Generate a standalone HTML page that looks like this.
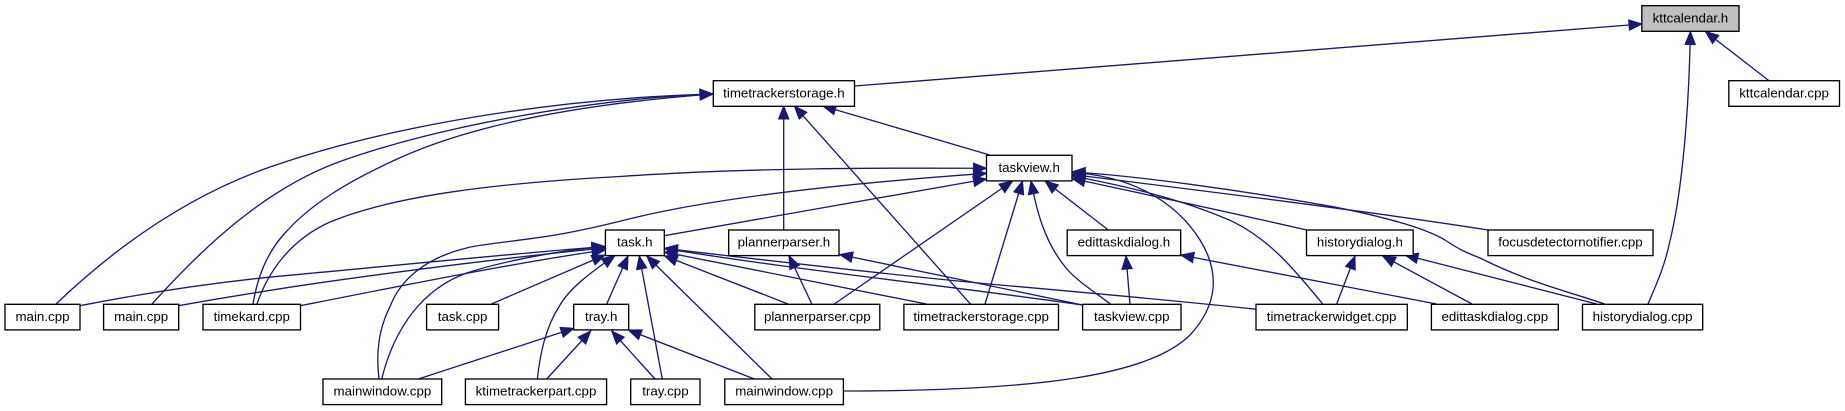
<!DOCTYPE html>
<html>
<head>
<meta charset="utf-8">
<style>
html,body{margin:0;padding:0;background:#fff;width:1845px;height:411px;overflow:hidden}
svg{display:block}
text{font-family:"Liberation Sans",sans-serif;font-size:13.33px;text-anchor:middle;fill:#000}
.e path{fill:none;stroke:#191970;stroke-width:1.33;marker-start:url(#a)}
.n rect{fill:#fff;stroke:#000;stroke-width:1.33}
</style>
</head>
<body>
<svg width="1845" height="411" viewBox="0 0 1845 411" xmlns="http://www.w3.org/2000/svg">
<defs>
<marker id="a" markerUnits="userSpaceOnUse" markerWidth="16" markerHeight="14" refX="14" refY="7" orient="auto-start-reverse">
<path d="M1,1.8 L14,7 L1,12.2 Z" fill="#191970" stroke="#191970" stroke-width="1"/>
</marker>
</defs>
<g class="e">
<path d="M1642 24 L854.5 86"/>
<path d="M1705.4 31.5 L1768.7 80.5"/>
<path d="M1690.4 31.5 C1689 105 1683 190 1669 245 C1664 268 1656 285 1648 304"/>
<path d="M822.8 106 L989.7 155"/>
<path d="M783.7 106 L783.7 230"/>
<path d="M794.4 106 L970.7 304.3"/>
<path d="M713 94 C560 98 390 125 270 167 C190 195 120 243 56 304"/>
<path d="M713 94 C600 98 440 125 336 163 C265 190 205 245 152 304"/>
<path d="M713 94 C580 104 470 125 395 160 C345 183 310 205 285 233 C265 255 257 280 253 304"/>
<path d="M986.5 168.3 C900 168 760 167 620 176.5 C500 183 395 195 330 222 C290 240 268 272 257 304"/>
<path d="M986.5 173.3 C850 183 720 197 633 218 C590 229 560 235 533 238.3 C500 243 475 245 466.7 248 C425 258 400 280 390 306.7 C378 330 376 355 379 379"/>
<path d="M986.5 179 L664.3 235.7"/>
<path d="M1012.6 181 L834.3 304"/>
<path d="M1022.5 181 L985 304"/>
<path d="M1031 181 C1036 207 1043 240 1066 268 C1078 282 1095 292 1110.3 304"/>
<path d="M1045 181 L1108.3 230"/>
<path d="M1072 172.5 C1130 176 1175 200 1200 240 C1220 272 1218 305 1190 335 C1150 375 1040 391 843.4 391"/>
<path d="M1072 172 C1130 175 1240 190 1333 206.7 C1385 217 1425 228 1445 240 C1460 250 1465 252 1480 258 C1530 283 1570 292 1604.6 304"/>
<path d="M1072 174.5 C1130 182 1350 208 1488 230"/>
<path d="M1072 176 C1120 185 1180 198 1233 221.7 C1270 240 1295 270 1322.7 304"/>
<path d="M1072 178.5 C1130 191 1220 210 1306.7 230"/>
<path d="M1126 256 L1130 304.3"/>
<path d="M1180.7 255 L1436.5 304"/>
<path d="M1355 256 L1336.7 304"/>
<path d="M1382.4 255.7 L1472 304"/>
<path d="M1405 255 L1596.7 304"/>
<path d="M789 255.7 L811.8 304"/>
<path d="M839.5 254.5 L1082.6 305"/>
<path d="M605 246.5 C530 252 380 267 300 274.3 C220 281 150 292 80 305.7"/>
<path d="M605 248 C530 255 400 271 300 285.7 C260 292 220 298 178.7 305.7"/>
<path d="M605 250 C520 262 410 284 300.5 305.7"/>
<path d="M605 255 L490.7 304.3"/>
<path d="M605 246.7 C560 250 500 262 466.7 273 C425 288 395 325 381.7 379"/>
<path d="M615 255.5 C590 273 570 288 560 305 C545 328 540 355 537.3 379"/>
<path d="M628 256 L606.7 304"/>
<path d="M639.3 256 L662.3 379"/>
<path d="M646.7 256 L772 379"/>
<path d="M664.3 255.7 L788 304"/>
<path d="M664.3 252 L926.5 304"/>
<path d="M664.3 248.3 C780 268 950 286 1082.6 305"/>
<path d="M664.3 248.3 C780 262 900 276 1000 285 C1090 293 1170 300 1256.7 309.3"/>
<path d="M574 328.3 L418.3 379"/>
<path d="M590.7 331 L546.7 379"/>
<path d="M611.7 331 L655 379"/>
<path d="M628.3 330 L754.4 379"/>
</g>
<g class="n">
<rect x="1641.8" y="5.7" width="97.2" height="25.6" style="fill:#bfbfbf"/><text x="1690.4" y="22.3">kttcalendar.h</text>
<rect x="1728.8" y="80.7" width="110.7" height="25.6"/><text x="1784.1" y="97.3">kttcalendar.cpp</text>
<rect x="713.3" y="80.7" width="141.2" height="25.6"/><text x="783.9" y="97.3">timetrackerstorage.h</text>
<rect x="986.5" y="155.3" width="85.5" height="25.6"/><text x="1029.2" y="171.9">taskview.h</text>
<rect x="605.4" y="230" width="58.9" height="25.6"/><text x="634.8" y="246.6">task.h</text>
<rect x="728.7" y="230" width="110.3" height="25.6"/><text x="783.9" y="246.6">plannerparser.h</text>
<rect x="1067.2" y="230" width="113.5" height="25.6"/><text x="1123.9" y="246.6">edittaskdialog.h</text>
<rect x="1306.5" y="230" width="106.7" height="25.6"/><text x="1359.9" y="246.6">historydialog.h</text>
<rect x="1488" y="230" width="165" height="25.6"/><text x="1570.5" y="246.6">focusdetectornotifier.cpp</text>
<rect x="5" y="304.3" width="75" height="25.6"/><text x="42.5" y="320.9">main.cpp</text>
<rect x="103.6" y="304.3" width="75.1" height="25.6"/><text x="141.2" y="320.9">main.cpp</text>
<rect x="203" y="304.3" width="97.5" height="25.6"/><text x="251.8" y="320.9">timekard.cpp</text>
<rect x="426.6" y="304.3" width="72" height="25.6"/><text x="462.6" y="320.9">task.cpp</text>
<rect x="573.7" y="304.3" width="55" height="25.6"/><text x="601.2" y="320.9">tray.h</text>
<rect x="754.8" y="304.3" width="125" height="25.6"/><text x="817.3" y="320.9">plannerparser.cpp</text>
<rect x="903.9" y="304.3" width="154.6" height="25.6"/><text x="981.2" y="320.9">timetrackerstorage.cpp</text>
<rect x="1082.6" y="304.3" width="98.4" height="25.6"/><text x="1131.8" y="320.9">taskview.cpp</text>
<rect x="1256" y="304.3" width="151.3" height="25.6"/><text x="1331.6" y="320.9">timetrackerwidget.cpp</text>
<rect x="1431.4" y="304.3" width="126.9" height="25.6"/><text x="1494.8" y="320.9">edittaskdialog.cpp</text>
<rect x="1582.5" y="304.3" width="120.2" height="25.6"/><text x="1642.6" y="320.9">historydialog.cpp</text>
<rect x="323" y="379" width="118.7" height="25.6"/><text x="382.4" y="395.6">mainwindow.cpp</text>
<rect x="465.4" y="379" width="141.2" height="25.6"/><text x="536" y="395.6">ktimetrackerpart.cpp</text>
<rect x="630.7" y="379" width="69.3" height="25.6"/><text x="665.4" y="395.6">tray.cpp</text>
<rect x="724.8" y="379" width="118.6" height="25.6"/><text x="784.1" y="395.6">mainwindow.cpp</text>
</g>
</svg>
</body>
</html>
